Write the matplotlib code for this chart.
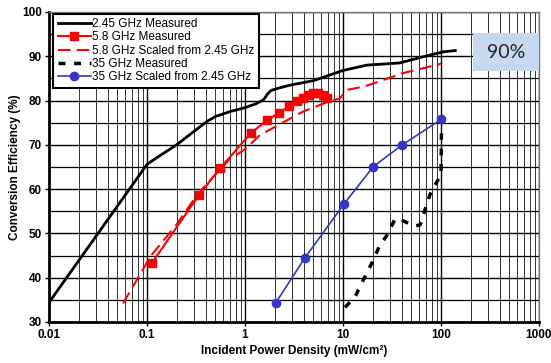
import matplotlib
matplotlib.use("Agg")
import matplotlib.pyplot as plt
from matplotlib.ticker import FixedLocator, NullFormatter, LogLocator

# ---- data ----
x_245 = [0.01, 0.1, 0.12, 0.2, 0.3, 0.41, 0.5, 0.7, 1.0, 1.3, 1.55,
         1.7, 1.85, 2.2, 2.9, 5, 10, 17.5, 38, 66, 105, 140]
y_245 = [34.4, 65.6, 66.8, 70, 73, 75.3, 76.4, 77.5, 78.4, 79.3, 80.2,
         81.5, 82.3, 82.8, 83.5, 84.5, 86.8, 88, 88.5, 89.9, 91, 91.3]

x_58m = [0.112, 0.34, 0.556, 1.14, 1.665, 2.24, 2.83, 3.37, 3.93, 4.42, 4.98, 5.6, 6.3, 6.82]
y_58m = [43.3, 58.7, 64.7, 72.6, 75.5, 77.3, 78.8, 79.8, 80.5, 81.3, 81.8, 81.7, 81.3, 80.5]

x_58s = [0.057, 0.08, 0.11, 0.2, 0.33, 0.556, 0.7, 1.0, 1.42, 2.2, 3.9, 6.8, 9.3, 10.9, 15.8,
         18.8, 41, 100]
y_58s = [34.2, 39.8, 45, 52, 58.9, 64.5, 66.8, 69, 72.2, 74.5, 77.5, 79.6, 80.5, 82.4, 83.1,
         83.6, 86.2, 88.3]

x_35m = [10.5, 13.3, 16.2, 20, 23.4, 28.9, 33.8, 36.4, 46.4, 54, 61, 64, 68.6, 77, 91, 100, 101]
y_35m = [33.3, 35.7, 39.6, 43.6, 47, 50, 53.2, 53.4, 52.3, 51.7, 51.9, 53, 55.3, 58.7, 61.7, 63, 72.6]

x_35s = [2.07, 4.09, 10.2, 20.4, 40.3, 101]
y_35s = [34.4, 44.5, 56.6, 65.1, 70, 75.8]

x_ticks = [0.01, 0.1, 1, 10, 100, 1000]
x_ticklabels = ["0.01", "0.1", "1", "10", "100", "1000"]
y_ticks = [30, 40, 50, 60, 70, 80, 90, 100]

plt.rcParams['font.family'] = ['Liberation Sans', 'DejaVu Sans']

fig = plt.figure(figsize=(5.51, 3.63), dpi=100)
ax = fig.add_axes([49/551, 1-322/363, (539-49)/551, (322-12)/363])

ax.set_xscale('log')
ax.set_xlim(0.01, 1000)
ax.set_ylim(30, 100)

# grid
ax.xaxis.set_minor_locator(LogLocator(base=10, subs=range(2, 10), numticks=20))
ax.xaxis.set_minor_formatter(NullFormatter())
ax.set_yticks(y_ticks)
ax.yaxis.set_minor_locator(FixedLocator([35, 45, 55, 65, 75, 85, 95]))
ax.grid(which='major', color='black', lw=1.0, zorder=0)
ax.grid(which='minor', axis='x', color='#333333', lw=0.7, zorder=0)
ax.grid(which='minor', axis='y', color='black', lw=0.9, zorder=0)
ax.tick_params(which='minor', length=0)
ax.tick_params(which='major', length=3, width=1, direction='out', pad=2)

ax.set_xticks(x_ticks)
ax.set_xticklabels(x_ticklabels)
for lab in ax.get_xticklabels() + ax.get_yticklabels():
    lab.set_fontweight('bold')
    lab.set_fontsize(8.5)

for s in ['left', 'bottom']:
    ax.spines[s].set_linewidth(2)
for s in ['top', 'right']:
    ax.spines[s].set_linewidth(1)
    ax.spines[s].set_color('#777777')

l1, = ax.plot(x_245, y_245, color='black', lw=2, label='2.45 GHz Measured', zorder=3)
l2, = ax.plot(x_58m, y_58m, color='red', lw=1.5, marker='s', ms=6, label='5.8 GHz Measured', zorder=4)
l3, = ax.plot(x_58s, y_58s, color='red', lw=1.5, ls=(0, (6, 3)), label='5.8 GHz Scaled from 2.45 GHz', zorder=3)
l4, = ax.plot(x_35m, y_35m, color='black', lw=2.5, ls=(0, (2, 2.5)), label='35 GHz Measured', zorder=3)
l5, = ax.plot(x_35s, y_35s, color='#3535cc', lw=1.2, marker='o', ms=6, label='35 GHz Scaled from 2.45 GHz', zorder=4)

leg = ax.legend(loc='upper left', bbox_to_anchor=(0.008, 0.995), fontsize=8.5, frameon=True,
                fancybox=False, edgecolor='black', framealpha=1, handlelength=2.8,
                handletextpad=0.1, labelspacing=0.1, borderpad=0.4, borderaxespad=0.0)
leg.get_frame().set_linewidth(1.5)

ax.set_xlabel('Incident Power Density (mW/cm²)', fontsize=8.5, fontweight='bold', labelpad=3)
ax.set_ylabel('Conversion Efficiency (%)', fontsize=8.5, fontweight='bold', labelpad=1)

# 90% box
fig.patches.append(matplotlib.patches.Rectangle((473/551, 1-70.7/363), (539-473)/551, (70.7-33.3)/363,
                                                transform=fig.transFigure, facecolor='#c6d9f1',
                                                edgecolor='none', zorder=5))
fig.text(506/551, 1-52/363, '90%', ha='center', va='center', fontsize=14,
         family=['Lato', 'DejaVu Sans'], color='#222222', zorder=6)

fig.savefig('out.png', dpi=100)
